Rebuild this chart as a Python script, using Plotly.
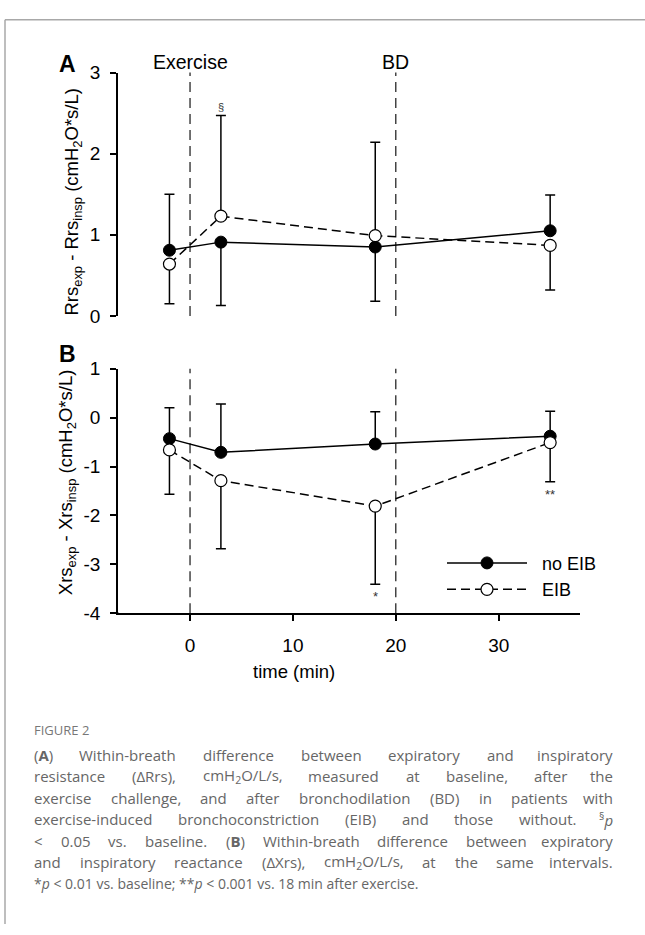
import re
import plotly.graph_objects as go

W, H = 645, 935

# ---------------- data ----------------
time_min = [-2, 3, 18, 35]

# Panel A: Rrs_exp - Rrs_insp
rrs_no_eib = [0.81, 0.91, 0.85, 1.05]
rrs_no_eib_up = [0.69, 0.0, 0.0, 0.44]
rrs_no_eib_down = [0.0, 0.78, 0.67, 0.0]
rrs_eib = [0.64, 1.23, 0.99, 0.87]
rrs_eib_up = [0.0, 1.24, 1.15, 0.0]
rrs_eib_down = [0.49, 0.0, 0.0, 0.55]

# Panel B: Xrs_exp - Xrs_insp
xrs_no_eib = [-0.43, -0.71, -0.54, -0.38]
xrs_no_eib_up = [0.63, 0.99, 0.66, 0.51]
xrs_eib = [-0.66, -1.29, -1.81, -0.51]
xrs_eib_down = [0.91, 1.39, 1.60, 0.80]

x_ticks = [0, 10, 20, 30]
a_ticks = [0, 1, 2, 3]
b_ticks = [-4, -3, -2, -1, 0, 1]
event_times = [0, 20]
event_labels = ["Exercise", "BD"]

caption_lines = [
    "(<b>A</b>) Within-breath difference between expiratory and inspiratory",
    "resistance (ΔRrs), cmH<sub>2</sub>O/L/s, measured at baseline, after the",
    "exercise challenge, and after bronchodilation (BD) in patients with",
    "exercise-induced bronchoconstriction (EIB) and those without. <sup>§</sup><i>p</i>",
    "&lt; 0.05 vs. baseline. (<b>B</b>) Within-breath difference between expiratory",
    "and inspiratory reactance (ΔXrs), cmH<sub>2</sub>O/L/s, at the same intervals.",
    "*<i>p</i> &lt; 0.01 vs. baseline; **<i>p</i> &lt; 0.001 vs. 18 min after exercise.",
]

# ---------------- geometry helpers ----------------
def px(x):
    return x / W

def py(y):
    return 1 - y / H

FONT = "Liberation Sans, Arial, sans-serif"
CAPFONT = "Open Sans, Noto Sans, sans-serif"
CAP_SIZE = 14
CAP_SIZE_JUST = 15
CAP_LEFT, CAP_RIGHT = 32, 615

# approximate Open Sans advance widths (units of 1/2048 em) for justification
_OS = {' ': 532, '(': 606, ')': 606, '*': 1120, ',': 502, '-': 659, '.': 545, '/': 752,
       ':': 545, ';': 545, '<': 1171, '§': 1061, 'Δ': 1300,
       'A': 1296, 'B': 1327, 'D': 1493, 'E': 1139, 'H': 1511, 'I': 571, 'L': 1063,
       'O': 1595, 'R': 1266, 'W': 1890, 'X': 1200,
       'a': 1167, 'b': 1255, 'c': 975, 'd': 1255, 'e': 1149, 'f': 694, 'g': 1122,
       'h': 1257, 'i': 518, 'j': 518, 'k': 1075, 'l': 518, 'm': 1905, 'n': 1257,
       'o': 1237, 'p': 1255, 'q': 1255, 'r': 836, 's': 977, 't': 723, 'u': 1257,
       'v': 1026, 'w': 1593, 'x': 1073, 'y': 1028, 'z': 977}

def text_width(markup, size):
    s = markup.replace("&lt;", "<")
    total, scale = 0.0, 1.0
    for tok in re.split(r"(</?\w+>)", s):
        if re.fullmatch(r"</?\w+>", tok):
            if tok in ("<sub>", "<sup>"):
                scale = 0.7
            elif tok in ("</sub>", "</sup>"):
                scale = 1.0
            continue
        for ch in tok:
            w = _OS.get(ch, 1171 if ch.isdigit() else 1150)
            total += w * scale
    return total / 2048 * size

fig = go.Figure()

solid_line = dict(color="black", width=1.5)
dash_line = dict(color="black", width=1.5, dash="9px,5px")
filled = dict(color="black", size=12, line=dict(color="black", width=1))
hollow = dict(color="white", size=12, line=dict(color="black", width=1.2))

def err(up, down):
    return dict(type="data", symmetric=False, array=up, arrayminus=down,
                color="black", thickness=1.5, width=5)

# Panel A
fig.add_trace(go.Scatter(x=time_min, y=rrs_no_eib, mode="lines+markers",
                         line=solid_line, marker=filled,
                         error_y=err(rrs_no_eib_up, rrs_no_eib_down),
                         xaxis="x", yaxis="y", showlegend=False, name="no EIB"))
fig.add_trace(go.Scatter(x=time_min, y=rrs_eib, mode="lines+markers",
                         line=dash_line, marker=hollow,
                         error_y=err(rrs_eib_up, rrs_eib_down),
                         xaxis="x", yaxis="y", showlegend=False, name="EIB"))
# Panel B
NB = "\u00a0\u00a0"
fig.add_trace(go.Scatter(x=time_min, y=xrs_no_eib, mode="lines+markers",
                         line=solid_line, marker=filled,
                         error_y=err(xrs_no_eib_up, [0] * 4),
                         xaxis="x2", yaxis="y2", name=NB + "no EIB"))
fig.add_trace(go.Scatter(x=time_min, y=xrs_eib, mode="lines+markers",
                         line=dash_line, marker=hollow,
                         error_y=err([0] * 4, xrs_eib_down),
                         xaxis="x2", yaxis="y2", name=NB + "EIB"))

tickfont = dict(family=FONT, size=19, color="black")
yax_common = dict(showline=True, linecolor="black", linewidth=1.5, ticks="outside",
                  ticklen=6, tickwidth=1.5, tickcolor="black", showgrid=False,
                  zeroline=False, tickfont=tickfont, ticklabelstandoff=6)

fig.update_layout(
    width=W, height=H, margin=dict(l=0, r=0, t=0, b=0),
    paper_bgcolor="white", plot_bgcolor="white",
    xaxis=dict(domain=[px(118), px(580)], range=[-7, 37.9], visible=False, anchor="y"),
    yaxis=dict(domain=[py(313), py(64)], range=[0, 3], tickvals=a_ticks,
               ticktext=[str(v) for v in a_ticks], anchor="x", **yax_common),
    xaxis2=dict(domain=[px(118), px(580)], range=[-7, 37.9], anchor="y2", showline=True,
                linecolor="black", linewidth=1.5, ticks="outside", ticklen=6,
                tickwidth=1.5, tickcolor="black", showgrid=False, zeroline=False,
                tickvals=x_ticks, ticktext=[str(v) for v in x_ticks],
                tickfont=tickfont, ticklabelstandoff=8),
    yaxis2=dict(domain=[py(617), py(367)], range=[-4, 1], tickvals=b_ticks,
                ticktext=[str(v) for v in b_ticks], anchor="x2", **yax_common),
    legend=dict(x=px(442), y=py(547), xanchor="left", yanchor="top",
                font=dict(family=FONT, size=18, color="black"),
                bgcolor="rgba(0,0,0,0)", itemwidth=80, tracegroupgap=0),
    showlegend=True,
)

shapes = []
for t in event_times:
    for yr in ["y domain", "y2 domain"]:
        shapes.append(dict(type="line", xref="x", yref=yr, x0=t, x1=t, y0=0, y1=1,
                           line=dict(color="black", width=1.1, dash="10px,6px"),
                           layer="below"))
shapes.append(dict(type="line", xref="paper", yref="paper", x0=px(112), x1=px(118.5),
                   y0=py(617), y1=py(617), line=dict(color="black", width=1.5)))
shapes.append(dict(type="line", xref="paper", yref="paper", x0=px(5), x1=1.0,
                   y0=py(10), y1=py(10), line=dict(color="#a8a8a8", width=1.5)))
shapes.append(dict(type="line", xref="paper", yref="paper", x0=px(5), x1=px(5),
                   y0=py(10), y1=0, line=dict(color="#a8a8a8", width=1.5)))
fig.update_layout(shapes=shapes)

ann = []
for t, lab in zip(event_times, event_labels):
    ann.append(dict(x=t, xref="x", y=py(53), yref="paper", text=lab, showarrow=False,
                    font=dict(family=FONT, size=19.5, color="black"), xanchor="center",
                    yanchor="middle"))
ann.append(dict(x=px(67), y=py(55), xref="paper", yref="paper", text="<b>A</b>",
                xanchor="center", yanchor="middle",
                showarrow=False, font=dict(family=FONT, size=23, color="black")))
ann.append(dict(x=px(67), y=py(352), xref="paper", yref="paper", text="<b>B</b>",
                xanchor="center", yanchor="middle",
                showarrow=False, font=dict(family=FONT, size=23, color="black")))
ann.append(dict(x=px(73), y=py(196), xref="paper", yref="paper", textangle=-90,
                xanchor="center", yanchor="middle",
                text="Rrs<sub>exp</sub> - Rrs<sub>insp</sub> (cmH<sub>2</sub>O*s/L)",
                showarrow=False, font=dict(family=FONT, size=18.5, color="black")))
ann.append(dict(x=px(67), y=py(483), xref="paper", yref="paper", textangle=-90,
                xanchor="center", yanchor="middle",
                text="Xrs<sub>exp</sub> - Xrs<sub>insp</sub> (cmH<sub>2</sub>O*s/L)",
                showarrow=False, font=dict(family=FONT, size=18.5, color="black")))
ann.append(dict(x=px(294), y=py(677), xref="paper", yref="paper", text="time (min)",
                xanchor="center", yanchor="middle",
                showarrow=False, font=dict(family=FONT, size=18.5, color="black")))
ann.append(dict(x=time_min[1], y=rrs_eib[1] + rrs_eib_up[1], xref="x", yref="y",
                text="§", showarrow=False, yanchor="bottom", yshift=1,
                font=dict(family=FONT, size=11, color="#333")))
ann.append(dict(x=time_min[2], y=xrs_eib[2] - xrs_eib_down[2], xref="x2", yref="y2",
                text="*", showarrow=False, yanchor="top", yshift=-3,
                font=dict(family=FONT, size=13, color="#333")))
ann.append(dict(x=time_min[3], y=xrs_eib[3] - xrs_eib_down[3], xref="x2", yref="y2",
                text="**", showarrow=False, yanchor="top", yshift=-3,
                font=dict(family=FONT, size=13, color="#333")))

# caption
ann.append(dict(x=px(CAP_LEFT), y=py(737), xref="paper", yref="paper", text="FIGURE 2",
                showarrow=False, xanchor="left", yanchor="middle",
                font=dict(family=CAPFONT, size=13, color="#777")))
for i, line in enumerate(caption_lines):
    yy = py(762 + 22 * i)
    words = line.split(" ")
    if i == len(caption_lines) - 1:
        ann.append(dict(x=px(CAP_LEFT), y=yy, xref="paper", yref="paper", text=line,
                        showarrow=False, xanchor="left", yanchor="middle",
                        font=dict(family=CAPFONT, size=CAP_SIZE, color="#666")))
        continue
    jfont = dict(family=CAPFONT, size=CAP_SIZE_JUST, color="#666")
    widths = [text_width(w, CAP_SIZE_JUST) for w in words]
    gap = (CAP_RIGHT - CAP_LEFT - sum(widths)) / (len(words) - 1)
    xpos = CAP_LEFT
    for j, (wd, wtxt) in enumerate(zip(widths, words)):
        last = j == len(words) - 1
        ann.append(dict(x=px(CAP_RIGHT if last else xpos), y=yy, xref="paper",
                        yref="paper", text=wtxt, showarrow=False,
                        xanchor="right" if last else "left", yanchor="middle",
                        font=jfont))
        xpos += wd + gap
fig.update_layout(annotations=ann)

fig.write_html("out.html", config={"displayModeBar": False},
               post_script="document.body.style.margin='0';document.body.style.overflow='hidden';")
